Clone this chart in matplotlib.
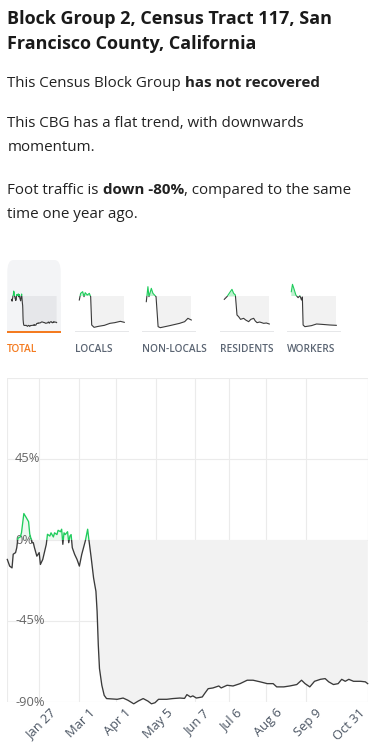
import matplotlib
matplotlib.use("Agg")
import matplotlib.pyplot as plt
from matplotlib.patches import Rectangle, FancyBboxPatch
import matplotlib.transforms as mtransforms
import numpy as np
import pandas as pd

W, H, DPI = 379, 755, 100
FONT = ["Open Sans", "DejaVu Sans"]

# ---------------- data ----------------
start_date = "2019-12-31"
total_days = [0, 2, 4, 5, 7, 8, 9, 11, 12, 14, 16, 18, 19, 21, 22, 23, 25, 27, 28, 30,
              33, 34, 36, 37, 39, 40, 42, 43, 45, 46, 47, 48, 49, 51, 52, 53, 54, 55, 57, 59,
              61, 63, 66, 68, 69, 71, 73, 74, 75, 76, 77, 78, 80, 82, 84, 93, 98, 102, 107, 111,
              115, 119, 122, 125, 128, 135, 140, 146, 150, 152, 155, 157, 160, 165, 167, 170, 174, 179, 181, 186,
              191, 197, 203, 208, 214, 220, 225, 228, 234, 239, 245, 249, 252, 256, 260, 265, 269, 272, 276, 280,
              283, 286, 289, 293, 299, 303, 305]
total_vals = [-10.8, -14.5, -15.5, -7.9, -7.0, -4.3, 1.0, 1.7, 4.0, 14.7, 12.5, 10.2, 3.3, -1.5, -1.5, -4.3, -9.0, -7.0, -13.6, -10.8,
              -2.4, 3.2, 2.2, 4.0, 1.7, 4.0, 3.0, 5.4, 4.6, 6.0, -2.4, 4.0, 3.0, 4.6, -1.5, 2.2, 3.0, -4.3, -8.0, -10.8,
              -14.5, -8.0, -0.6, 6.0, 0.4, -9.9, -21.0, -24.8, -28.5, -39.7, -58.3, -71.4, -80.7, -86.3, -88.1, -88.5, -87.8, -89.0, -91.0, -89.4,
              -88.1, -89.5, -91.0, -90.4, -88.5, -88.5, -88.1, -87.8, -88.0, -85.9, -87.2, -86.6, -87.8, -87.2, -85.3, -82.6, -82.2, -81.1, -82.2, -80.7,
              -81.1, -79.8, -77.9, -77.9, -78.8, -79.8, -79.8, -81.6, -81.6, -81.1, -80.3, -77.9, -79.8, -81.6, -78.5, -77.4, -77.0, -78.8, -80.3, -79.8,
              -77.4, -78.5, -77.4, -78.5, -78.5, -78.8, -79.8]

locals_days = [0, 9, 23, 32, 40, 54, 68, 77, 84, 100, 130, 170, 208, 240, 278, 305]
locals_vals = [-12, 8, 13, -2, 10, 3, 8, -2, -87, -94, -91, -88, -82, -80, -76, -79]

nonlocals_days = [0, 11, 18, 34, 45, 66, 80, 95, 158, 226, 260, 282, 305]
nonlocals_vals = [-17, 28, -2, 23, 8, -2, -92, -95, -89, -82, -77, -67, -72]

residents_days = [0, 18, 41, 52, 63, 75, 86, 97, 110, 131, 145, 165, 180, 199, 210, 222, 240, 267, 285, 305]
residents_vals = [-10, -2, 13, 20, 8, 3, -57, -62, -70, -67, -72, -77, -70, -67, -75, -80, -78, -82, -81, -84]

workers_days = [0, 8, 17, 31, 46, 58, 69, 75, 80, 92, 136, 171, 205, 261, 305]
workers_vals = [13, 35, 23, 3, -5, 1, -12, -3, -87, -92, -89, -84, -85, -87, -88]

tick_dates = ["2020-01-27", "2020-03-01", "2020-04-01", "2020-05-05", "2020-06-07",
              "2020-07-06", "2020-08-06", "2020-09-09", "2020-10-31"]
tick_labels = ["Jan 27", "Mar 1", "Apr 1", "May 5", "Jun 7", "Jul 6", "Aug 6", "Sep 9", "Oct 31"]
y_ticks = [45, 0, -45, -90]
y_labels = ["45%", "0%", "-45%", "-90%"]
tab_names = ["TOTAL", "LOCALS", "NON-LOCALS", "RESIDENTS", "WORKERS"]

# ---------------- style ----------------
DARK = "#3a3a3a"
GREEN = "#1fcc5c"
GRAYFILL = "#f2f2f2"
GREENFILL = "#ecf9f0"
GRID = "#ebebeb"

fig = plt.figure(figsize=(W / DPI, H / DPI), dpi=DPI)
fig.patch.set_facecolor("white")
renderer = fig.canvas.get_renderer()


def fx(x):
    return x / W


def fy(y):
    return 1 - y / H


def axes_px(x0, y0, x1, y1):
    return fig.add_axes([fx(x0), fy(y1), (x1 - x0) / W, (y1 - y0) / H])


def text_width(s, **kw):
    t1 = fig.text(0, 0, s + ".", **kw)
    t2 = fig.text(0, 0, ".", **kw)
    w = t1.get_window_extent(renderer).width - t2.get_window_extent(renderer).width
    t1.remove()
    t2.remove()
    return w


def rich_line(x, y, parts, size, color):
    cur = x
    for s, weight in parts:
        kw = dict(fontsize=size, fontweight=weight, color=color, family=FONT)
        fig.text(fx(cur), fy(y), s, va="baseline", ha="left", **kw)
        cur += text_width(s, **kw)


def draw_series(ax, x, y, lw, grayfill, greenfill):
    x = np.asarray(x, float)
    y = np.asarray(y, float)
    ax.fill_between(x, y, 0, where=y < 0, interpolate=True, color=grayfill, lw=0, zorder=1)
    ax.fill_between(x, y, 0, where=y > 0, interpolate=True, color=greenfill, lw=0, zorder=1)
    dark, = ax.plot(x, y, color=DARK, lw=lw, zorder=3, solid_joinstyle="round")
    green, = ax.plot(x, y, color=GREEN, lw=lw, zorder=4, solid_joinstyle="round")
    green.set_clip_path(Rectangle((-1000, 0), 3000, 1000, transform=ax.transData))
    dark.set_clip_path(Rectangle((-1000, -1000), 3000, 1000, transform=ax.transData))


# ---------------- header text ----------------
TXT = "#222222"
rich_line(7.3, 24, [("Block Group 2, Census Tract 117, San", "bold")], 13.0, "#1a1a1a")
rich_line(7.3, 49.3, [("Francisco County, California", "bold")], 13.0, "#1a1a1a")
rich_line(7.3, 87, [("This Census Block Group ", "normal"), ("has not recovered", "bold")], 10.9, TXT)
rich_line(7.3, 126.7, [("This CBG has a flat trend, with downwards", "normal")], 10.9, TXT)
rich_line(7.3, 151, [("momentum.", "normal")], 10.9, TXT)
rich_line(7.3, 194.3, [("Foot traffic is ", "normal"), ("down -80%", "bold"),
                       (", compared to the same", "normal")], 10.9, TXT)
rich_line(7.3, 217.7, [("time one year ago.", "normal")], 10.9, TXT)

# ---------------- tabs / thumbnails ----------------
tab_x = [7.3, 75, 142, 220, 287]
tab_w = 54
thumb_data = [(total_days, total_vals), (locals_days, locals_vals), (nonlocals_days, nonlocals_vals),
              (residents_days, residents_vals), (workers_days, workers_vals)]

# selected card background (drawn beneath the axes)
card = FancyBboxPatch((fx(7.3), fy(332)), fx(53.4), 72 / H,
                      boxstyle="round,pad=0,rounding_size=0.016", transform=fig.transFigure,
                      facecolor="#f3f4f6", edgecolor="none", zorder=-2)
fig.patches.append(card)
fig.patches.append(Rectangle((fx(7.3), fy(332)), fx(53.4), 30 / H, transform=fig.transFigure,
                             facecolor="#f3f4f6", edgecolor="none", zorder=-2))

for i, (name, (d, v)) in enumerate(zip(tab_names, thumb_data)):
    x0 = tab_x[i]
    sel = i == 0
    if sel:
        fig.patches.append(Rectangle((fx(x0), fy(333)), fx(tab_w), 2 / H, transform=fig.transFigure,
                                     facecolor="#f47b20", edgecolor="none", zorder=2))
    else:
        fig.patches.append(Rectangle((fx(x0), fy(332.5)), fx(tab_w), 1 / H, transform=fig.transFigure,
                                     facecolor="#e6e7e9", edgecolor="none", zorder=2))
    fig.text(fx(x0), fy(351.7), name, fontsize=7.3, fontweight="semibold", family=FONT,
             color="#f47b20" if sel else "#5b6573", va="baseline", ha="left")
    tax = axes_px(x0 + 4.3, 280, x0 + 4.3 + 45, 328)
    tax.set_xlim(0, 305)
    tax.set_ylim(-96, 48)
    tax.axis("off")
    draw_series(tax, d, v, 0.8, "#e6e7ea" if sel else GRAYFILL, "#bff0cf")

# ---------------- main chart ----------------
ax = axes_px(7.3, 378, 367.7, 702)
ax.set_xlim(0, 305)
ax.set_ylim(-90, 90)
for s in ax.spines.values():
    s.set_visible(False)

start = pd.Timestamp(start_date)
tick_days = [(pd.Timestamp(t) - start).days for t in tick_dates]

for yv in [-90, -45, 0, 45, 90]:
    ax.axhline(yv, color=GRID, lw=0.8, zorder=0.5)
for xv in [0] + tick_days + [305]:
    ax.axvline(xv, color=GRID, lw=0.8, zorder=0.5)

draw_series(ax, total_days, total_vals, 0.95, GRAYFILL, GREENFILL)

ylab_tr = mtransforms.blended_transform_factory(ax.transAxes, ax.transData)
for yv, lab in zip(y_ticks, y_labels):
    ax.text(0.0214, yv, lab, transform=ylab_tr, fontsize=9.3, color="#666666", family=FONT,
            va="center", ha="left", zorder=2)

ax.set_yticks([])
ax.set_xticks(tick_days)
ax.set_xticklabels(tick_labels, rotation=45, fontsize=9.3, color="#4b5563", family=FONT)
ax.tick_params(axis="x", length=0, pad=3)
shift = mtransforms.ScaledTranslation(2 / DPI, 0, fig.dpi_scale_trans)
labs = ax.get_xticklabels()
for j, lab in enumerate(labs):
    if j == len(labs) - 1:
        lab.set_ha("right")
    else:
        lab.set_ha("center")
        lab.set_transform(lab.get_transform() + shift)

fig.savefig("out.png", dpi=DPI, facecolor="white")
